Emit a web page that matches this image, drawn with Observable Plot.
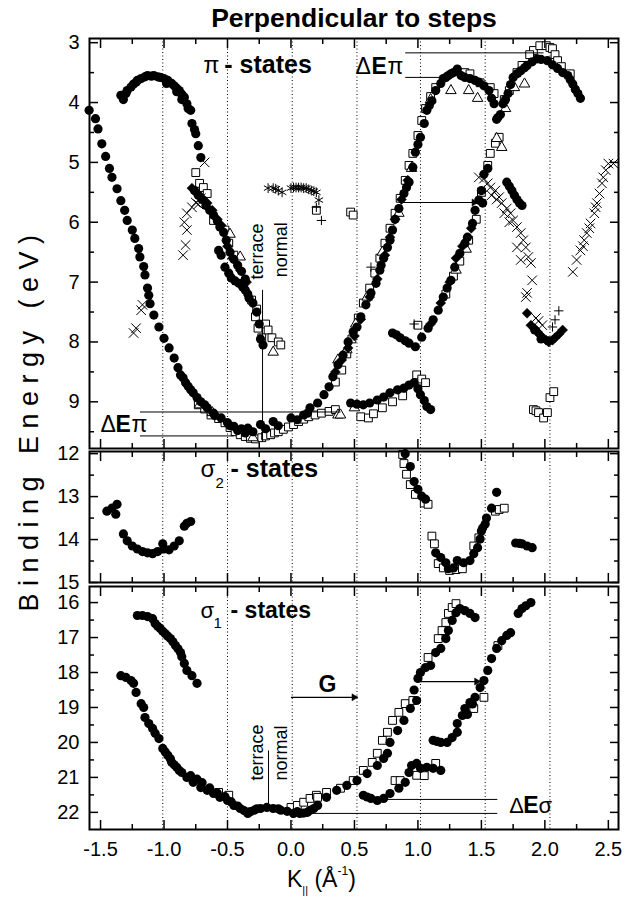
<!DOCTYPE html>
<html><head><meta charset="utf-8">
<script src="https://cdn.jsdelivr.net/npm/d3@7"></script>
<script src="https://cdn.jsdelivr.net/npm/@observablehq/plot@0.6"></script>
<style>
body{margin:0;background:#fff;}
#c{position:relative;width:631px;height:900px;background:#fff;font-family:'Liberation Sans',Arial,Helvetica,sans-serif;color:#000;overflow:hidden;}
.p{position:absolute;left:0;}
</style></head><body><div id="c">
<div style="position:absolute;left:54px;width:600px;top:5px;line-height:26px;font-size:26.5px;font-weight:bold;text-align:center;">Perpendicular to steps</div>
<div style="position:absolute;left:-221px;top:406px;width:500px;line-height:27px;font-size:27px;letter-spacing:7.5px;text-align:center;transform:rotate(-90deg);white-space:nowrap;">Binding Energy (eV)</div>
<div style="position:absolute;left:287px;top:868px;line-height:23px;font-size:23px;white-space:nowrap;">K<span style="font-size:11px;position:relative;top:7px;">||</span> (Å<span style="font-size:12px;position:relative;top:-12px;">-1</span>)</div>
<div id="p1" class="p" style="top:28px"></div>
<div id="p2" class="p" style="top:441px"></div>
<div id="p3" class="p" style="top:576px"></div>
</div>
<script>
// ---------- axes / scales ----------
const kDomain = [-1.587, 2.58];
const kMajor = [-1.5,-1,-0.5,0,0.5,1,1.5,2,2.5];
const kMinor = [-1.25,-0.75,-0.25,0.25,0.75,1.25,1.75,2.25];
const dotK = [-1.01,-0.50,0.01,0.52,1.02,1.53,2.04];
const piMajor = [3,4,5,6,7,8,9];
const piMinor = [3.5,4.5,5.5,6.5,7.5,8.5,9.5];
const s2Major = [12,13,14,15];
const s2Minor = [12.5,13.5,14.5];
const s1Major = [16,17,18,19,20,21,22];
const s1Minor = [16.5,17.5,18.5,19.5,20.5,21.5];

// ---------- pi-states data [k, E] ----------
const piCircles = [
[-1.59,4.13],[-1.54,4.27],[-1.52,4.44],[-1.49,4.69],[-1.46,4.9],[-1.43,5.1],[-1.41,5.25],[-1.37,5.44],[-1.34,5.64],[-1.31,5.8],[-1.29,5.97],[-1.25,6.13],[-1.23,6.27],[-1.2,6.44],[-1.19,6.58],[-1.16,6.74],[-1.15,6.88],[-1.13,7.1],[-1.12,7.22],[-1.11,7.36],[-1.08,7.55],[-1.04,7.75],[-1.0,7.94],[-0.96,8.1],[-0.92,8.27],[-0.89,8.43],[-0.87,8.55],[-0.85,8.6],[-0.83,8.68],[-0.81,8.74],[-0.79,8.8],[-0.77,8.85],[-0.74,8.93],[-0.71,9.0],[-0.68,9.05],[-0.66,9.1],[-0.61,9.19],[-0.6,9.23],[-0.55,9.27],[-0.5,9.35],[-0.48,9.4],[-0.45,9.41],[-0.42,9.48],[-0.39,9.45],[-0.36,9.52],[-0.34,9.44],[-0.3,9.5],[-0.24,9.38],[-0.2,9.45],[-0.14,9.33],[-0.1,9.4],[0.0,9.27],[0.05,9.3],[0.1,9.22],[0.13,9.19],
[-1.34,3.88],[-1.32,3.95],[-1.3,3.85],[-1.29,3.8],[-1.26,3.74],[-1.24,3.69],[-1.22,3.66],[-1.21,3.63],[-1.18,3.6],[-1.15,3.57],[-1.13,3.55],[-1.1,3.56],[-1.08,3.55],[-1.05,3.57],[-1.03,3.58],[-1.0,3.6],[-0.98,3.68],[-0.97,3.63],[-0.94,3.68],[-0.92,3.72],[-0.9,3.76],[-0.9,3.82],[-0.88,3.8],[-0.86,3.86],[-0.86,3.95],[-0.84,3.91],[-0.82,4.02],[-0.81,4.1],[-0.79,4.13],[-0.78,4.35],[-0.76,4.45],[-0.75,4.52],[-0.73,4.72],[-0.71,4.92],
[-0.76,5.47],[-0.73,5.55],[-0.7,5.62],[-0.67,5.72],[-0.64,5.8],[-0.61,5.88],[-0.58,5.98],[-0.56,6.08],[-0.53,6.17],[-0.51,6.3],[-0.57,6.47],[-0.55,6.55],[-0.52,6.75],[-0.49,6.85],[-0.47,6.93],[-0.44,6.98],[-0.41,7.02],[-0.38,7.08],[-0.36,7.13],[-0.34,7.2],[-0.33,7.27],[-0.48,6.5],[-0.45,6.62],[-0.42,6.72],[-0.39,6.82],[-0.36,6.95],[-0.3,7.35],[-0.27,7.5],[-0.25,7.7],[-0.24,7.95],[-0.22,8.05],
[0.15,9.1],[0.21,9.02],[0.26,8.88],[0.3,8.75],[0.33,8.58],[0.37,8.38],[0.41,8.22],[0.45,8.0],[0.49,7.83],[0.52,7.75],[0.55,7.58],[0.59,7.38],[0.63,7.18],[0.67,7.02],[0.7,6.8],[0.71,6.72],[0.73,6.6],[0.76,6.42],[0.78,6.3],[0.8,6.13],[0.82,5.95],[0.85,5.77],[0.89,5.52],[0.91,5.42],[0.93,5.33],[0.96,5.08],[0.98,4.83],[1.0,4.7],[1.02,4.58],[1.05,4.35],[1.07,4.13],[1.09,4.05],[1.11,3.97],[1.14,3.8],[1.18,3.68],[1.2,3.6],[1.22,3.58],[1.24,3.55],[1.26,3.52],[1.28,3.5],[1.31,3.44],[1.34,3.55],[1.37,3.58],[1.41,3.6],[1.45,3.63],[1.48,3.66],[1.52,3.72],[1.56,3.8],[1.58,3.93],[1.6,4.02],
[0.47,9.02],[0.52,9.04],[0.57,9.05],[0.62,9.02],[0.68,8.97],[0.73,8.92],[0.78,8.85],[0.84,8.8],[0.89,8.77],[0.93,8.72],[0.97,8.68],[1.0,8.78],[1.02,8.88],[1.05,8.98],[1.07,9.08],[1.1,9.13],
[0.8,7.85],[0.83,7.88],[0.86,7.93],[0.9,7.98],[0.93,8.02],[0.98,8.08],[1.03,7.92],[1.08,7.77],[1.12,7.63],[1.16,7.47],[1.2,7.25],[1.23,7.1],[1.26,6.97],[1.29,6.75],[1.33,6.52],[1.37,6.35],[1.39,6.25],[1.43,6.02],[1.45,5.8],[1.48,5.63],[1.5,5.47],[1.51,5.68],[1.52,5.2],[1.55,5.1],
[1.62,4.28],[1.63,4.25],[1.65,4.2],[1.67,4.02],[1.69,3.95],[1.71,3.85],[1.73,3.7],[1.75,3.58],[1.78,3.52],[1.81,3.47],[1.84,3.42],[1.86,3.38],[1.9,3.32],[1.94,3.27],[1.97,3.28],[2.02,3.3],[2.06,3.37],[2.1,3.43],[2.14,3.5],[2.18,3.55],[2.2,3.62],[2.22,3.69],[2.24,3.78],[2.26,3.85],[2.28,3.93],
[1.7,5.33],[1.72,5.4],[1.74,5.47],[1.76,5.55],[1.78,5.62],[1.8,5.68],[1.82,5.72],
[1.92,7.8],[1.97,7.95],[2.03,7.98]
];
const piDiamonds = [
[-0.78,5.43],[-0.74,5.52],[-0.7,5.6],[-0.66,5.68],[-0.62,5.8],[-0.58,5.95],[-0.55,6.05],[-0.5,6.4],[-0.46,6.6],[-0.4,6.8],[-0.35,7.0],
[0.35,8.5],[0.4,8.3],[0.45,8.1],[0.5,7.9],[0.55,7.62],[0.62,7.25],[0.68,6.95],[0.74,6.55],[0.78,6.25],[0.82,5.95],[0.87,5.62],[0.92,5.3],
[1.1,7.7],[1.18,7.35],[1.25,7.0],[1.3,6.6],[1.35,6.4],[1.42,6.1],
[1.86,7.52],[1.89,7.72],[1.92,7.78],[1.94,7.83],[1.96,7.88],[1.98,7.92],[2.01,7.97],[2.03,8.0],[2.06,7.97],[2.08,7.93],[2.11,7.87],[2.14,7.8]
];
const piSquares = [
[-0.75,5.17],[-0.72,5.35],[-0.69,5.42],[-0.66,5.52],[-0.61,5.97],[-0.52,6.13],[-0.49,6.35],[-0.45,6.55],[-0.31,7.3],[-0.27,7.45],[-0.28,7.58],[-0.2,7.7],[-0.26,7.77],[-0.23,7.93],[-0.18,7.8],[-0.15,7.93],[-0.1,8.0],[-0.08,8.05],
[-0.73,9.05],[-0.68,9.12],[-0.63,9.22],[-0.57,9.28],[-0.52,9.35],[-0.48,9.43],[-0.44,9.5],[-0.4,9.55],[-0.36,9.58],[-0.32,9.61],[-0.28,9.62],[-0.23,9.6],[-0.2,9.57],[-0.16,9.55],[-0.13,9.52],[-0.1,9.5],[-0.06,9.46],[-0.02,9.42],[0.02,9.38],[0.06,9.33],[0.1,9.29],[0.14,9.25],[0.19,9.22],[0.24,9.19],[0.3,9.16],[0.35,9.13],
[0.35,8.67],[0.4,8.47],[0.44,8.2],[0.48,7.95],[0.53,7.6],[0.57,7.35],[0.62,7.1],[0.66,6.85],[0.7,6.6],[0.74,6.35],[0.78,6.1],[0.82,5.85],[0.86,5.6],[0.9,5.3],[0.93,5.05],[0.96,4.85],[1.0,4.55],[1.03,4.3],[1.06,4.1],[1.1,3.9],[1.14,3.75],[1.37,3.5],[1.41,3.52],[1.49,3.67],[1.57,3.75],[1.6,3.85],
[0.55,9.25],[0.61,9.27],[0.65,9.2],[0.72,9.1],[0.8,9.0],[0.88,8.9],[0.99,8.55],[1.03,8.62],[1.06,8.68],
[1.0,7.72],[1.22,7.2],[1.28,6.9],[1.33,6.65],[1.4,6.3],[1.46,5.95],[1.5,5.5],[1.55,5.05],[1.57,4.85],[1.61,4.68],[1.64,4.58],
[1.91,3.13],[1.96,3.05],[2.01,3.05],[2.04,3.08],[2.06,3.1],[2.08,3.2],[2.1,3.3],[1.88,3.2],[1.82,3.38],[1.78,3.5],[1.72,3.8],[1.68,3.95],[2.13,3.4],[2.2,3.52],
[1.91,9.13],[1.93,9.15],[1.95,9.18],[1.99,9.27],[2.02,9.18],[2.04,8.93],[2.07,8.83],
[0.2,5.8],[0.47,5.83],[0.49,5.88]
];
const piTriangles = [
[-0.4,6.58],[-0.14,8.17],[-0.48,6.2],
[-0.72,9.05],[-0.62,9.18],[-0.3,9.6],[0.37,9.22],[0.39,9.22],[0.5,9.1],
[0.37,8.3],[0.44,8.13],[0.51,7.7],[0.6,7.25],[0.72,6.5],[0.85,5.85],[0.95,5.1],[1.1,3.95],[1.26,3.8],[1.4,3.8],[1.47,3.93],
[1.3,6.8],[1.38,6.45],[1.62,4.6],[1.66,4.75],[1.84,3.69],[1.76,3.75],[1.69,4.1]
];
const piCrosses = [
[-0.68,5.0],[-0.71,5.6],[-0.73,5.7],[-0.75,5.67],[-0.78,5.75],[-0.82,5.85],[-0.84,6.0],[-0.82,6.13],[-0.83,6.38],[-0.85,6.55],[-1.17,7.38],[-1.18,7.47],[-1.22,7.77],[-1.24,7.85],
[1.48,5.25],[1.52,5.27],[1.55,5.35],[1.57,5.42],[1.58,5.55],[1.61,5.47],[1.62,5.62],[1.64,5.58],[1.66,5.68],[1.68,5.85],[1.7,5.77],[1.72,6.0],[1.73,5.85],[1.75,5.97],[1.78,6.08],[1.81,6.18],[1.83,6.3],[1.85,6.42],[1.87,6.58],[1.89,6.68],[1.81,6.63],[1.78,6.42],[1.9,6.97],[1.86,7.18],[1.85,7.25],
[2.22,6.83],[2.25,6.63],[2.28,6.47],[2.3,6.4],[2.31,6.3],[2.33,6.18],[2.35,6.1],[2.36,6.02],[2.39,5.85],[2.4,5.75],[2.41,5.68],[2.43,5.52],[2.45,5.35],[2.46,5.25],[2.48,5.13],[2.5,5.02],[2.54,5.02],
[1.93,7.6],[1.95,7.65],[1.98,7.72]
];
const piPlus = [[0.24,5.97],[0.2,5.75],[0.63,6.75],[0.97,7.7],[2.11,7.48],[2.08,7.63],[2.06,7.75]];
const piAsterisks = [[-0.18,5.43],[-0.14,5.43],[-0.12,5.44],[-0.1,5.47],[-0.07,5.5],[0.0,5.43],[0.02,5.42],[0.04,5.42],[0.06,5.42],[0.08,5.42],[0.1,5.43],[0.12,5.43],[0.14,5.45],[0.16,5.47],[0.18,5.48],[0.2,5.5],[0.22,5.63]];

// ---------- sigma2 data ----------
const s2Circles = [
[-1.45,13.34],[-1.41,13.27],[-1.37,13.18],[-1.38,13.41],[-1.32,13.87],[-1.29,14.03],[-1.25,14.15],[-1.21,14.22],[-1.17,14.28],[-1.13,14.31],[-1.09,14.33],[-1.05,14.28],[-1.01,14.1],[-1.0,14.22],[-0.96,14.24],[-0.92,14.15],[-0.88,14.03],[-0.84,13.69],[-0.82,13.62],[-0.79,13.58],
[0.9,12.0],[0.94,12.3],[0.97,12.65],[1.0,12.83],[1.03,12.99],[1.06,13.06],
[1.14,14.31],[1.18,14.42],[1.22,14.54],[1.24,14.68],[1.28,14.66],[1.31,14.49],[1.36,14.54],[1.41,14.49],[1.44,14.33],[1.47,14.19],[1.49,13.99],[1.5,13.8],[1.51,13.73],[1.53,13.64],[1.54,13.5],[1.58,13.27],[1.62,12.9],
[1.77,14.08],[1.8,14.09],[1.82,14.1],[1.86,14.15],[1.9,14.19]
];
const s2Squares = [
[0.88,12.02],[0.89,12.23],[0.91,12.48],[0.94,12.72],[0.98,12.95],[1.05,13.15],[1.08,13.18],[1.11,13.92],[1.13,14.1],[1.16,14.56],[1.2,14.66],[1.25,14.72],[1.3,14.7],[1.35,14.68],[1.44,14.15],[1.48,13.96],[1.61,13.34],[1.64,13.3],[1.68,13.27]
];

// ---------- sigma1 data ----------
const s1Circles = [
[-1.21,16.37],[-1.17,16.37],[-1.13,16.4],[-1.09,16.46],[-1.07,16.6],[-1.05,16.68],[-1.03,16.74],[-1.01,16.82],[-0.99,16.89],[-0.97,16.96],[-0.95,17.03],[-0.93,17.12],[-0.91,17.23],[-0.89,17.32],[-0.87,17.43],[-0.86,17.55],[-0.84,17.74],[-0.82,17.94],[-0.78,18.09],[-0.74,18.31],
[-1.34,18.09],[-1.3,18.14],[-1.26,18.23],[-1.24,18.31],[-1.22,18.57],[-1.18,18.89],[-1.16,19.0],[-1.15,19.29],[-1.12,19.46],[-1.09,19.6],[-1.07,19.74],[-1.04,19.89],[-1.01,20.17],[-0.99,20.27],[-0.97,20.37],[-0.95,20.47],[-0.94,20.57],[-0.92,20.64],[-0.9,20.71],[-0.88,20.8],[-0.86,20.86],[-0.82,21.0],[-0.79,20.95],[-0.77,21.14],[-0.74,21.05],[-0.71,21.29],[-0.7,21.15],[-0.66,21.37],[-0.64,21.3],[-0.61,21.46],[-0.58,21.45],[-0.56,21.57],[-0.52,21.55],[-0.5,21.66],[-0.47,21.7],[-0.45,21.8],[-0.42,21.82],[-0.4,21.89],[-0.37,21.95],[-0.34,22.03],[-0.32,21.98],[-0.29,21.94],[-0.27,21.9],[-0.24,21.89],[-0.19,21.86],[-0.14,21.89],[-0.1,21.9],[-0.08,21.94],[-0.03,21.97],[0.02,22.03],[0.05,21.98],[0.07,22.03],[0.1,22.02],[0.13,22.0],[0.18,21.89],
[0.15,21.94],[0.21,21.8],[0.28,21.57],[0.36,21.37],[0.44,21.23],[0.52,21.09],[0.6,20.89],[0.68,20.66],[0.73,20.46],[0.76,20.31],[0.78,20.0],[0.84,19.66],[0.89,19.37],[0.94,19.03],[0.99,18.8],[0.97,18.5],[1.0,18.17],[1.02,18.0],[1.06,17.86],[1.1,17.8],[1.14,17.43],[1.18,17.31],[1.22,17.03],[1.24,16.8],[1.27,16.51],[1.3,16.29],[1.33,16.17],[1.37,16.23],[1.41,16.31],[1.45,16.43],
[0.57,21.51],[0.6,21.56],[0.63,21.6],[0.68,21.66],[0.73,21.6],[0.78,21.46],[0.85,21.31],[0.9,21.14],[0.93,20.86],[0.95,20.66],[0.99,20.6],[1.02,20.74],[1.07,20.71],[1.12,20.74],[1.18,20.8],
[1.12,19.94],[1.15,19.97],[1.18,20.0],[1.23,20.0],[1.27,19.86],[1.31,19.71],[1.31,19.46],[1.35,19.23],[1.37,19.03],[1.39,19.2],[1.41,18.86],[1.43,18.9],[1.45,18.71],[1.49,18.43],[1.52,18.23],[1.55,17.94],[1.58,17.6],[1.62,17.31],[1.66,17.09],[1.7,16.94],[1.73,16.86],
[1.79,16.31],[1.82,16.17],[1.85,16.09],[1.89,16.0]
];
const s1Squares = [
[-0.57,21.43],[-0.49,21.51],[0.0,21.86],[0.05,21.8],[0.1,21.71],[0.15,21.6],[0.2,21.51],[0.21,21.57],[0.28,21.43],[0.39,21.31],[0.49,21.09],[0.57,20.8],[0.64,20.57],[0.68,20.31],[0.72,19.94],[0.76,19.71],[0.8,19.37],[0.85,19.14],[0.9,18.89],[0.96,18.8],[1.08,17.57],[1.16,17.03],[1.19,16.8],[1.22,16.57],[1.24,16.31],[1.27,16.14],[1.3,16.03],
[0.82,21.09],[0.86,21.09],[0.99,20.94],[1.05,20.95],[1.14,20.6],[1.44,19.03],[1.52,18.71],[1.63,17.23]
];

// ---------- annotations ----------
const piGreek = [[-0.689,3.5,"π"],[0.508,3.53,"Δ"],[0.76,3.53,"π"],[-1.5,9.5,"Δ"],[-1.256,9.5,"π"]];
const piBoldE = [[0.634,3.53,"E"],[-1.382,9.5,"E"]];
const piStates = [[-0.525,3.5,"- states"]];
const piRot = [[-0.224,6.02,"terrace"],[-0.035,6.0,"normal"]];
const piLinks = [[0.90,3.17,1.99,3.17],[0.90,3.58,1.17,3.58],[-1.19,9.17,0.39,9.17],[-1.19,9.57,-0.45,9.57],[-0.224,7.13,-0.224,9.67]];
const piArrows = [[0.86,5.67,1.47,5.67]];
const s2Greek = [[-0.713,12.555,"σ"]];
const s2Sub = [[-0.594,12.81,"2"]];
const s2States = [[-0.476,12.555,"- states"]];
const s1Greek = [[-0.713,16.455,"σ"],[1.72,22.03,"Δ"],[1.949,22.03,"σ"]];
const s1Sub = [[-0.61,16.74,"1"]];
const s1Bold = [[-0.476,16.455,"- states"],[1.83,22.03,"E"],[0.217,18.57,"G"]];
const s1Rot = [[-0.217,21.09,"terrace"],[-0.035,21.09,"normal"]];
const s1Links = [[0.74,21.63,1.625,21.63],[0.02,22.03,1.625,22.03],[-0.177,20.23,-0.177,21.75]];
const s1Arrows = [[0.0,18.71,0.524,18.71],[1.02,18.26,1.49,18.26]];

// ---------- helpers ----------
const X = d => d[0], Y = d => d[1];
const FONT = "'Liberation Sans', Arial, Helvetica, sans-serif";
function circles(a){ return Plot.dot(a,{x:X,y:Y,r:4.6,fill:"black",stroke:"none"}); }
function squares(a){ return Plot.dot(a,{x:X,y:Y,symbol:"square",r:4.4,fill:"white",stroke:"black",strokeWidth:1}); }
function triangles(a){ return Plot.dot(a,{x:X,y:Y,symbol:"triangle",r:3.9,fill:"white",stroke:"black",strokeWidth:1}); }
function diamonds(a){ return Plot.dot(a,{x:X,y:Y,symbol:"diamond2",r:4.5,fill:"black",stroke:"black",strokeWidth:0.5}); }
function crosses(a){ return Plot.dot(a,{x:X,y:Y,symbol:"times",r:4.4,fill:"none",stroke:"black",strokeWidth:1}); }
function pluses(a){ return Plot.dot(a,{x:X,y:Y,symbol:"plus",r:3.1,fill:"none",stroke:"black",strokeWidth:1}); }
function asterisks(a){ return Plot.dot(a,{x:X,y:Y,symbol:"asterisk",r:4.6,fill:"none",stroke:"black",strokeWidth:1}); }
function txt(a, o){ return Plot.text(a,{x:X,y:Y,text:d=>d[2],textAnchor:"start",lineAnchor:"bottom",fill:"black",...o}); }
function links(a){ return Plot.link(a,{x1:d=>d[0],y1:d=>d[1],x2:d=>d[2],y2:d=>d[3],stroke:"black",strokeWidth:1}); }
function arrows(a){ return [
  Plot.link(a,{x1:d=>d[0],y1:d=>d[1],x2:d=>d[2],y2:d=>d[3],stroke:"black",strokeWidth:1.2}),
  Plot.dot(a,{x:d=>d[2],y:d=>d[3],symbol:"triangle",r:2.6,rotate:90,dx:-3.5,fill:"black",stroke:"black",strokeWidth:0.5})
]; }
function frameTicks(yMajor, yMinor){
  const c = {color:"none", stroke:"black", strokeWidth:1.5, label:null};
  return [
    Plot.axisY(yMajor,{...c,anchor:"left",tickSize:-9}),
    Plot.axisY(yMinor,{...c,anchor:"left",tickSize:-5}),
    Plot.axisY(yMajor,{...c,anchor:"right",tickSize:-9}),
    Plot.axisY(yMinor,{...c,anchor:"right",tickSize:-5}),
    Plot.axisX(kMajor,{...c,anchor:"top",tickSize:-9}),
    Plot.axisX(kMinor,{...c,anchor:"top",tickSize:-5}),
    Plot.axisX(kMajor,{...c,anchor:"bottom",tickSize:-9}),
    Plot.axisX(kMinor,{...c,anchor:"bottom",tickSize:-5})
  ];
}
function panel(el, {height, mt, mb, yDomain, yMajor, yMinor, layers, xLabels}){
  const marks = [
    Plot.ruleX(dotK,{stroke:"black",strokeWidth:1,strokeDasharray:"1,2.5"}),
    ...layers,
    ...frameTicks(yMajor, yMinor),
    Plot.axisY(yMajor,{anchor:"left",tickSize:0,tickPadding:10,fontSize:20,label:null,tickFormat:d=>String(d)}),
    Plot.frame({stroke:"black",strokeWidth:2})
  ];
  if (xLabels) marks.push(Plot.axisX(kMajor,{anchor:"bottom",tickSize:0,tickPadding:12,fontSize:20,label:null,tickFormat:d=>d.toFixed(1)}));
  const p = Plot.plot({
    width:631, height, marginLeft:89, marginRight:13, marginTop:mt, marginBottom:mb,
    x:{domain:kDomain}, y:{domain:yDomain, reverse:true},
    style:{background:"transparent", overflow:"visible", fontFamily:FONT, fontSize:"20px", color:"black"},
    marks
  });
  document.getElementById(el).appendChild(p);
}

panel("p1",{height:424, mt:10, mb:4, yDomain:[2.93,9.78], yMajor:piMajor, yMinor:piMinor, layers:[
  squares(piSquares), triangles(piTriangles), circles(piCircles), diamonds(piDiamonds),
  crosses(piCrosses), pluses(piPlus), asterisks(piAsterisks),
  links(piLinks), ...arrows(piArrows),
  txt(piGreek,{fontSize:23}), txt(piBoldE,{fontSize:23,fontWeight:"bold"}),
  txt(piStates,{fontSize:25,fontWeight:"bold"}),
  txt(piRot,{fontSize:18,rotate:-90,textAnchor:"end"})
]});
panel("p2",{height:145, mt:10, mb:4, yDomain:[11.95,15.0], yMajor:s2Major, yMinor:s2Minor, layers:[
  squares(s2Squares), circles(s2Circles),
  txt(s2Greek,{fontSize:24}), txt(s2Sub,{fontSize:15}), txt(s2States,{fontSize:25,fontWeight:"bold"})
]});
panel("p3",{height:303, mt:10, mb:50, yDomain:[15.54,22.49], yMajor:s1Major, yMinor:s1Minor, xLabels:true, layers:[
  squares(s1Squares), circles(s1Circles),
  links(s1Links), ...arrows(s1Arrows),
  txt(s1Greek,{fontSize:22}), txt(s1Sub,{fontSize:15}), txt(s1Bold,{fontSize:23,fontWeight:"bold"}),
  txt(s1Rot,{fontSize:18,rotate:-90,textAnchor:"start"})
]});
</script></body></html>
